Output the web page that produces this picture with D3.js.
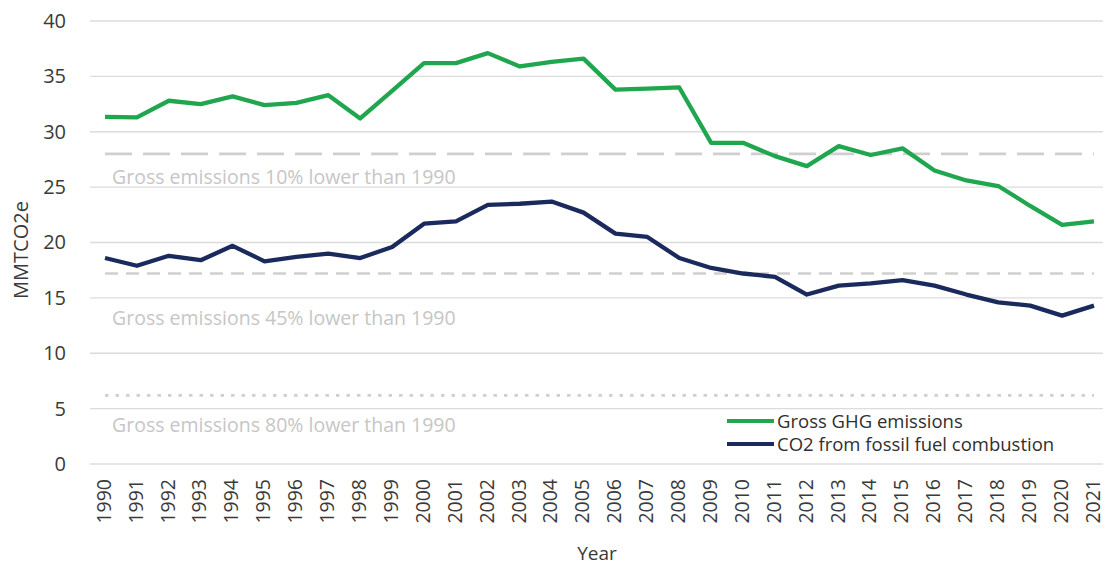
<!DOCTYPE html>
<html>
<head>
<meta charset="utf-8">
<script src="https://cdn.jsdelivr.net/npm/d3@7"></script>
<style>
  html, body { margin: 0; padding: 0; background: #fff; }
  svg { display: block; }
  text { font-family: "Open Sans", "Noto Sans", sans-serif; }
</style>
</head>
<body>
<svg id="chart" width="1105" height="568"></svg>
<script>
const years = [1990,1991,1992,1993,1994,1995,1996,1997,1998,1999,2000,2001,2002,2003,2004,2005,2006,2007,2008,2009,2010,2011,2012,2013,2014,2015,2016,2017,2018,2019,2020,2021];
const grossGHG = [31.35,31.3,32.8,32.5,33.2,32.4,32.6,33.3,31.2,33.7,36.2,36.2,37.1,35.9,36.3,36.6,33.8,33.9,34.0,29.0,29.0,27.8,26.9,28.7,27.9,28.5,26.5,25.6,25.1,23.3,21.6,21.9];
const co2Fossil = [18.6,17.9,18.8,18.4,19.7,18.3,18.7,19.0,18.6,19.6,21.7,21.9,23.4,23.5,23.7,22.7,20.8,20.5,18.6,17.7,17.2,16.9,15.3,16.1,16.3,16.6,16.1,15.3,14.6,14.3,13.4,14.3];
const seriesNames = ["Gross GHG emissions", "CO2 from fossil fuel combustion"];
const yTicks = [0,5,10,15,20,25,30,35,40];
const refValues = [28.0, 17.2, 6.2];
const refLabels = ["Gross emissions 10% lower than 1990", "Gross emissions 45% lower than 1990", "Gross emissions 80% lower than 1990"];
const refLabelAt = [25.9, 13.15, 3.5];

const svg = d3.select("#chart");
const x = d3.scalePoint().domain(years).range([105, 1094]);
const y = d3.scaleLinear().domain([0, 40]).range([464, 21]);

// gridlines
svg.append("g").selectAll("line").data(yTicks).join("line")
  .attr("x1", 90).attr("x2", 1103)
  .attr("y1", d => y(d)).attr("y2", d => y(d))
  .attr("stroke", "#dcdcdc").attr("stroke-width", 1.3);

// y axis labels
const yAxis = d3.axisLeft(y).tickValues(yTicks).tickSize(0).tickPadding(0).tickFormat(d3.format("d"));
const gy = svg.append("g").attr("transform", "translate(66,0)").call(yAxis);
gy.select(".domain").remove();
gy.selectAll("text").attr("font-size", 20).attr("fill", "#3a3a3a")
  .attr("font-family", "'Open Sans', sans-serif");

// x axis labels
const xAxis = d3.axisBottom(x).tickSize(0).tickPadding(0);
const gx = svg.append("g").attr("transform", "translate(0,479)").call(xAxis);
gx.select(".domain").remove();
gx.selectAll("text")
  .attr("font-size", 19.5).attr("fill", "#3a3a3a")
  .attr("font-family", "'Open Sans', sans-serif")
  .attr("text-anchor", "end")
  .attr("transform", "rotate(-90)")
  .attr("x", 0).attr("y", 0).attr("dy", "0.27em")
  .attr("dx", 0);

// reference lines
const dashes = ["27 11", "13 8", "3.5 7"];
svg.append("g").selectAll("line").data(refValues).join("line")
  .attr("x1", x(years[0])).attr("x2", x(years[years.length-1]))
  .attr("y1", d => y(d)).attr("y2", d => y(d))
  .attr("stroke", "#cfcfcf").attr("stroke-width", 2.6)
  .attr("stroke-dasharray", (d, i) => dashes[i]);

svg.append("g").selectAll("text").data(refLabels).join("text")
  .attr("x", 112).attr("y", (d, i) => y(refLabelAt[i]))
  .attr("dy", "0.35em")
  .attr("font-size", 19.5).attr("fill", "#c6c6c6")
  .text(d => d);

// series lines
const line = d3.line().x((d, i) => x(years[i])).y(d => y(d));
const colors = ["#21a650", "#1b2a5c"];
[grossGHG, co2Fossil].forEach((s, k) => {
  svg.append("path").datum(s)
    .attr("d", line)
    .attr("fill", "none")
    .attr("stroke", colors[k])
    .attr("stroke-width", 4.3)
    .attr("stroke-linejoin", "round");
});

// legend
const lg = svg.append("g");
seriesNames.forEach((n, i) => {
  const ly = 421 + i * 23;
  lg.append("line").attr("x1", 727).attr("x2", 774).attr("y1", ly).attr("y2", ly)
    .attr("stroke", colors[i]).attr("stroke-width", 4);
  lg.append("text").attr("x", 777).attr("y", ly).attr("dy", "0.36em")
    .attr("font-size", 18.5).attr("fill", "#2f2f2f").text(n);
});

// axis titles
svg.append("text").attr("x", 597).attr("y", 553).attr("dy", "0.35em")
  .attr("text-anchor", "middle").attr("font-size", 19).attr("fill", "#3a3a3a").text("Year");
svg.append("text").attr("transform", "translate(21,250) rotate(-90)")
  .attr("dy", "0.35em").attr("text-anchor", "middle")
  .attr("font-size", 20).attr("fill", "#3a3a3a").text("MMTCO2e");
</script>
</body>
</html>
